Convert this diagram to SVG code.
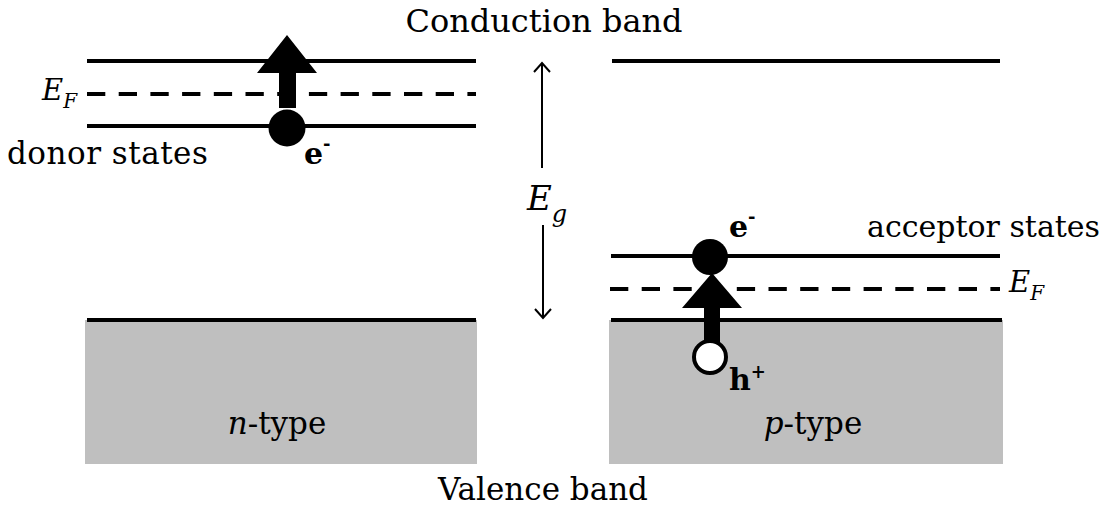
<svg xmlns="http://www.w3.org/2000/svg" width="1115" height="508" viewBox="0 0 1115 508">
  <defs>
    <style>
      .t { font-family: "DejaVu Serif", "Liberation Serif", serif; font-size: 30px; fill: #000; }
      .it { font-style: italic; }
      .b { font-weight: bold; }
      .lvl { stroke: #000; stroke-width: 4; fill: none; }
      .dash { stroke: #000; stroke-width: 4; fill: none; stroke-dasharray: 18.3 13.4; }
      .band { fill: #bfbfbf; }
      .thin { stroke: #000; stroke-width: 2; fill: none; }
    </style>
    <marker id="open" viewBox="0 0 12 18" refX="10" refY="9" markerWidth="12" markerHeight="18" markerUnits="userSpaceOnUse" orient="auto-start-reverse">
      <path d="M1,1 L10,9 L1,17" fill="none" stroke="#000" stroke-width="2"/>
    </marker>
  </defs>
  <rect width="1115" height="508" fill="#fff"/>

  <g id="titles">
    <text class="t" x="544" y="32" text-anchor="middle" style="font-size:32px">Conduction band</text>
    <text class="t" x="543" y="500" text-anchor="middle" style="font-size:31px">Valence band</text>
  </g>

  <g id="n-type">
    <rect class="band" x="85" y="320" width="392" height="144"/>
    <line class="lvl" x1="87" y1="61" x2="476" y2="61"/>
    <line class="dash" x1="87" y1="94" x2="476" y2="94"/>
    <line class="lvl" x1="87" y1="126" x2="476" y2="126"/>
    <line class="lvl" x1="87" y1="320" x2="476" y2="320"/>
    <text class="t it" x="42" y="100" style="font-size:29px">E<tspan style="font-size:20px" dy="8">F</tspan></text>
    <text class="t" x="7" y="164" style="font-size:31px" letter-spacing="0.5">donor states</text>
    <text class="t" x="277" y="434" text-anchor="middle" style="font-size:31px"><tspan class="it">n</tspan>-type</text>
  </g>

  <g id="donor-electron">
    <path d="M287,35 L317,73 L296,73 L296,108 L279,108 L279,73 L257,73 Z" fill="#000"/>
    <circle cx="287" cy="128" r="18.5" fill="#000"/>
    <text class="t b" x="304" y="164">e<tspan dy="-14" style="font-size:18px">-</tspan></text>
  </g>

  <g id="p-type">
    <rect class="band" x="609" y="320" width="394" height="144"/>
    <line class="lvl" x1="612" y1="61" x2="1000" y2="61"/>
    <line class="lvl" x1="611" y1="256" x2="1000" y2="256"/>
    <line class="dash" x1="610" y1="289" x2="1000" y2="289"/>
    <line class="lvl" x1="611" y1="320" x2="1002" y2="320"/>
    <text class="t it" x="1009" y="292" style="font-size:29px">E<tspan style="font-size:20px" dy="8">F</tspan></text>
    <text class="t" x="867" y="237">acceptor states</text>
    <text class="t" x="813" y="434" text-anchor="middle" style="font-size:31px"><tspan class="it">p</tspan>-type</text>
  </g>

  <g id="acceptor-transition">
    <path d="M712,273 L742,308 L720,308 L720,345 L704,345 L704,308 L682,308 Z" fill="#000"/>
    <circle cx="710" cy="257" r="18" fill="#000"/>
    <circle cx="710" cy="357" r="16" fill="#fff" stroke="#000" stroke-width="4"/>
    <text class="t b" x="729" y="237">e<tspan dy="-14" style="font-size:18px">-</tspan></text>
    <text class="t b" x="729" y="390">h<tspan dy="-12" style="font-size:18px">+</tspan></text>
  </g>

  <g id="connectors">
    <line class="thin" x1="542" y1="63" x2="542" y2="168" marker-start="url(#open)"/>
    <line class="thin" x1="543" y1="225" x2="543" y2="318" marker-end="url(#open)"/>
  </g>

  <g id="gap-label">
    <text class="t it" x="527" y="210" style="font-size:34px">E<tspan style="font-size:24px" dy="12">g</tspan></text>
  </g>
</svg>
